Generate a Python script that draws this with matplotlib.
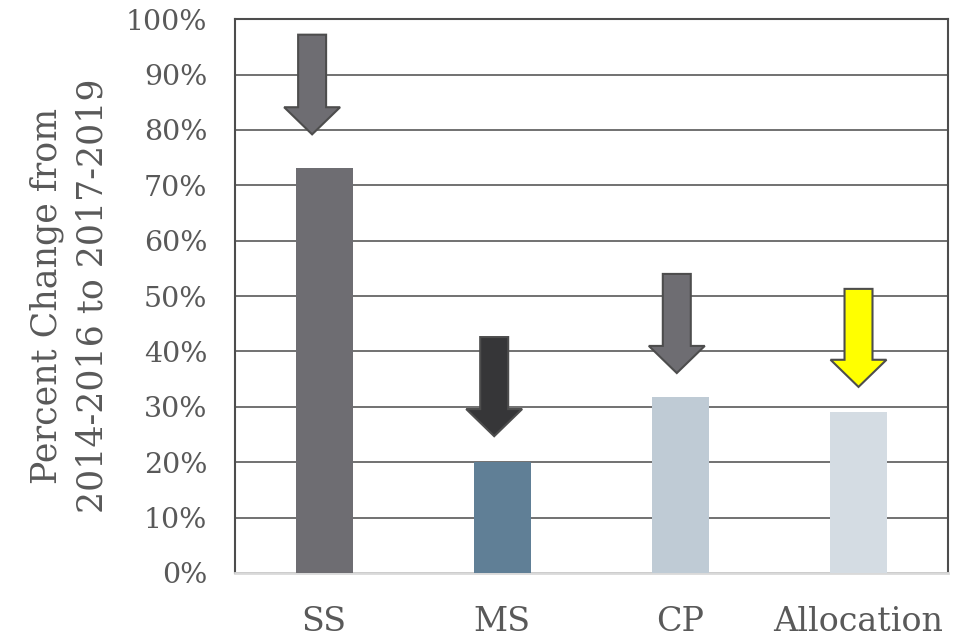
import matplotlib.pyplot as plt
from matplotlib.ticker import PercentFormatter

# bar data (percent change)
categories = ["SS", "MS", "CP", "Allocation"]
pct_change = [73.1, 20.0, 31.8, 29.1]
bar_colors = ["#6e6d72", "#607f96", "#bfcbd5", "#d4dce3"]

# down arrows: start level and tip level (percent)
arrow_top = [97.2, 42.6, 54.0, 51.3]
arrow_tip = [79.2, 24.7, 36.1, 33.6]
arrow_colors = ["#6e6d72", "#363638", "#6e6d72", "#ffff00"]
arrow_shift = [-0.067, -0.045, -0.02, 0.0]  # offset from bar centre

txt = "#595959"
plt.rcParams['font.family'] = ['DejaVu Serif']

fig = plt.figure(figsize=(9.63, 6.39), dpi=100)
ax = fig.add_axes([0.244, 0.1033, 0.740, 0.8667])

x = range(len(categories))
ax.bar(x, pct_change, width=0.32, color=bar_colors, zorder=3)

for i in x:
    ax.arrow(i + arrow_shift[i], arrow_top[i], 0, arrow_tip[i] - arrow_top[i],
             width=0.157, head_width=0.314, head_length=4.9,
             length_includes_head=True, fc=arrow_colors[i], ec="#4d4d4d",
             lw=1.5, zorder=4)

ax.set_xlim(-0.5, 3.5)
ax.set_ylim(0, 100)
ax.set_yticks(range(0, 101, 10))
ax.yaxis.set_major_formatter(PercentFormatter(decimals=0))
ax.set_xticks(list(x))
ax.set_xticklabels(categories, fontsize=24, color=txt)
ax.tick_params(axis='y', labelsize=20.5, colors=txt, length=0, pad=20)
ax.tick_params(axis='x', length=0, pad=24)

ax.grid(axis='y', color="#595959", lw=1.2, zorder=1)
for s in ['left', 'top', 'right']:
    ax.spines[s].set_color("#4d4d4d")
    ax.spines[s].set_linewidth(1.5)
ax.spines['bottom'].set_color("#d9d9d9")
ax.spines['bottom'].set_linewidth(2)

ax.set_ylabel("Percent Change from\n2014-2016 to 2017-2019", fontsize=25,
              color=txt, labelpad=12, linespacing=1.4)

fig.savefig("out.png", dpi=100)
